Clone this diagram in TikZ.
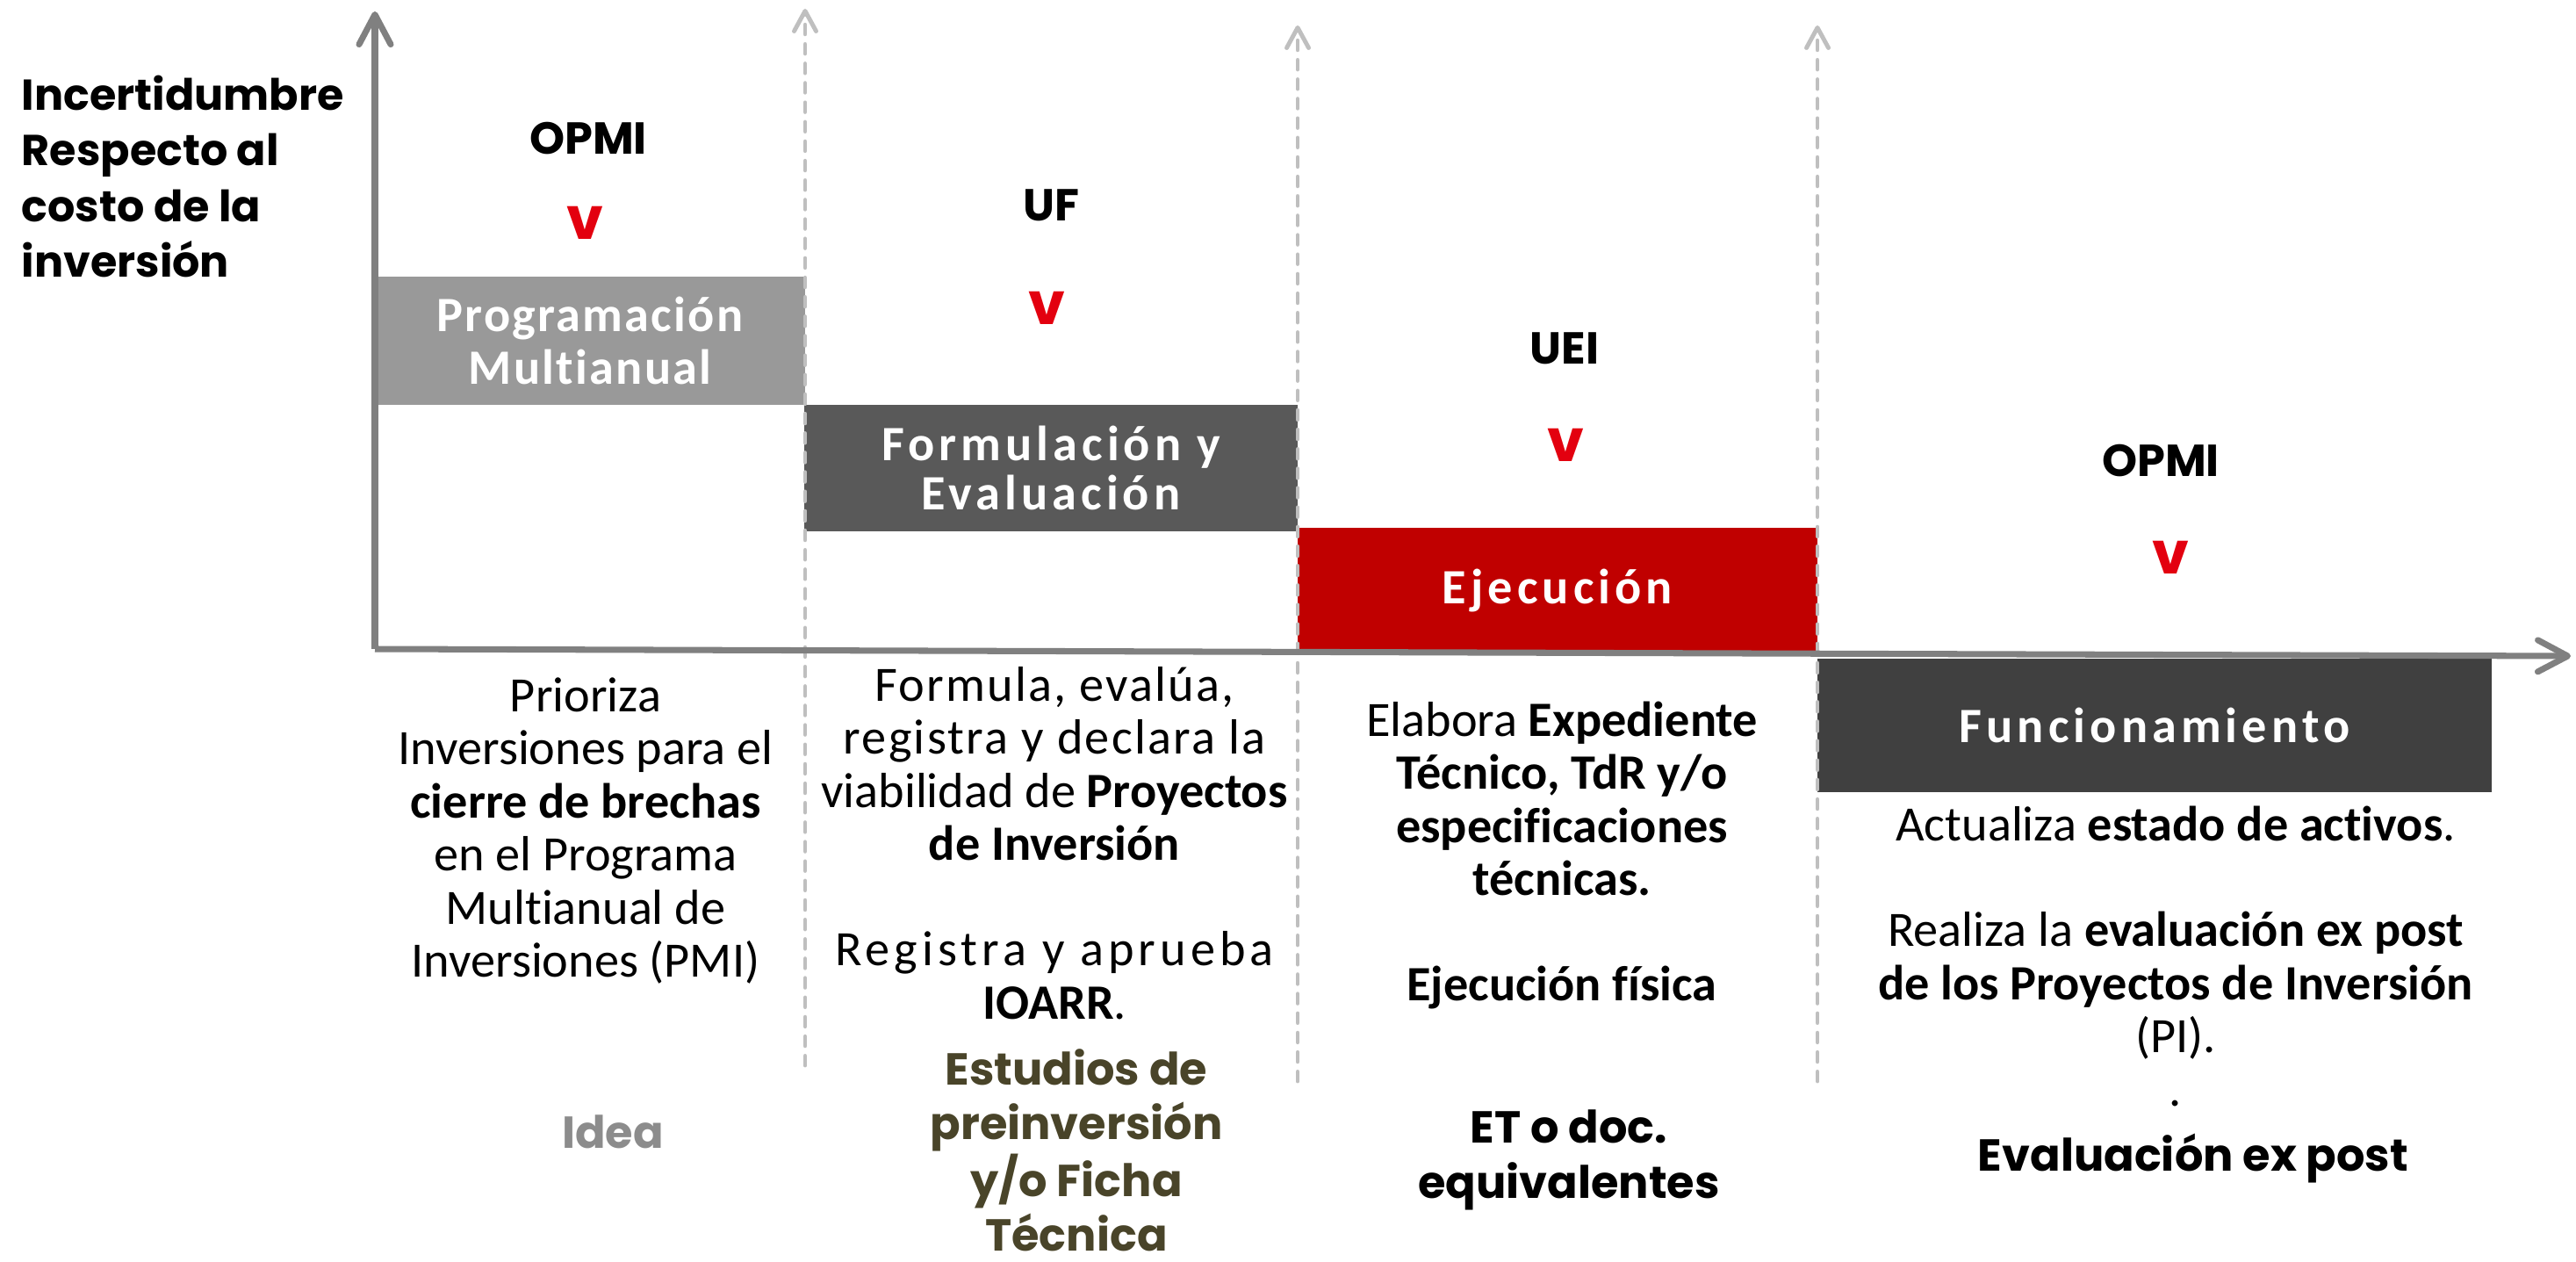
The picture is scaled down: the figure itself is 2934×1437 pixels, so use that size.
\documentclass[tikz,border=0pt]{standalone}
\usepackage{fontspec}
\setmainfont{Carlito}[Ligatures=NoCommon]
\newfontfamily\gothic{Poppins}
\newfontfamily\trackA[LetterSpace=4,Ligatures=NoCommon]{Carlito}
\newfontfamily\trackB[LetterSpace=9,Ligatures=NoCommon]{Carlito}
\usetikzlibrary{arrows.meta}

\definecolor{axisgray}{HTML}{808080}
\definecolor{dashgray}{HTML}{BFBFBF}
\definecolor{progfill}{HTML}{999999}
\definecolor{formfill}{HTML}{595959}
\definecolor{ejecfill}{HTML}{C00000}
\definecolor{funcfill}{HTML}{404040}
\definecolor{markred}{HTML}{E3000F}
\definecolor{ideagray}{HTML}{8C8C8C}
\definecolor{olivedark}{HTML}{494429}

\tikzset{
  eje/.style={draw=axisgray, line width=2pt, -{Straight Barb[length=3.4mm,width=3.6mm,round]}},
  limite/.style={draw=dashgray, line width=1.4pt, line cap=round, dash pattern=on 3pt off 3.3pt,
    -{Straight Barb[length=2.3mm,width=2.5mm,round]}},
  etapa/.style={text=white, inner sep=0pt, align=center, font=\trackB\bfseries\fontsize{16}{16}\selectfont},
  actor/.style={inner sep=0pt, font=\gothic\bfseries\fontsize{14.5}{18}\selectfont},
  marca/.style={inner sep=0pt, text=markred, font=\gothic\bfseries\fontsize{19}{18}\selectfont},
  tarea/.style={inner sep=0pt, align=center, font=\fontsize{16}{17.2}\selectfont},
  producto/.style={inner sep=0pt, align=center, font=\gothic\bfseries\fontsize{14.5}{17.8}\selectfont},
}

\begin{document}
\begin{tikzpicture}[x=0.01cm, y=-0.01cm]
\useasboundingbox (0,0) rectangle (2934,1437);

\coordinate (O) at (427,739);
\coordinate (ytip) at (427,13);
\coordinate (xtip) at (2928,747);
\coordinate (d1b) at (917,1213);
\coordinate (d1t) at (917,10);
\coordinate (d2b) at (1478,1231);
\coordinate (d2t) at (1478,29);
\coordinate (d3b) at (2070,1231);
\coordinate (d3t) at (2070,29);

\node[etapa, fill=progfill, minimum width=4.90cm, minimum height=1.45cm, font=\trackA\bfseries\fontsize{16}{17}\selectfont]
  (prog) at (672,388) {Programación\\Multianual};
\node[etapa, fill=formfill, minimum width=5.61cm, minimum height=1.43cm] (form) at (1197,533) {Formulación y\\Evaluación};
\node[etapa, fill=ejecfill, minimum width=5.92cm, minimum height=1.44cm] (ejec) at (1774,673) {Ejecución};
\node[etapa, fill=funcfill, minimum width=7.68cm, minimum height=1.52cm] (func) at (2454,826) {Funcionamiento};

\draw[limite] (d1b) -- (d1t);
\draw[limite] (d2b) -- (d2t);
\draw[limite] (d3b) -- (d3t);
\draw[eje] (O) -- (ytip);
\draw[eje] (O) -- (xtip);

\node[anchor=west, align=left, inner sep=0pt, font=\gothic\bfseries\fontsize{14}{18}\selectfont]
  (incert) at (24,201) {Incertidumbre\\Respecto al\\costo de la\\inversión};

\node[actor] (opmi1) at (670,158) {OPMI};
\node[marca] (v1) at (666,254) {v};
\node[actor] (uf) at (1197,234) {UF};
\node[marca] (v2) at (1192,351) {v};
\node[actor] (uei) at (1782,397) {UEI};
\node[marca] (v3) at (1783,507) {v};
\node[actor] (opmi2) at (2461,525) {OPMI};
\node[marca] (v4) at (2472,635) {v};

\node[tarea] (t1) at (667,946) {Prioriza\\Inversiones para el\\\textbf{cierre de brechas}\\en el Programa\\Multianual de\\Inversiones (PMI)};
\node[tarea] (t2) at (1201,960) {{\trackA Formula, evalúa,}\\{\trackA registra y declara la}\\viabilidad de \textbf{Proyectos}\\\textbf{de Inversión}\\[17pt]{\trackB Registra y aprueba}\\\textbf{IOARR}.};
\node[tarea] (t3) at (1779,974) {Elabora \textbf{Expediente}\\\textbf{Técnico, TdR y/o}\\\textbf{especificaciones}\\\textbf{técnicas.}\\[17pt]\textbf{Ejecución física}};
\node[tarea] (t4) at (2478,1089) {Actualiza \textbf{estado de activos}.\\[17pt]Realiza la \textbf{evaluación ex post}\\\textbf{de los Proyectos de Inversión}\\(PI).\\.};

\node[producto, text=ideagray] (idea) at (698,1289) {Idea};
\node[producto, text=olivedark, font=\gothic\bfseries\fontsize{14.5}{17.5}\selectfont]
  (estudios) at (1226,1310) {Estudios de\\preinversión\\y/o Ficha\\Técnica};
\node[producto] (et) at (1787,1321) {ET o doc.\\equivalentes};
\node[producto] (expost) at (2498,1319) {Evaluación ex post};
\end{tikzpicture}
\end{document}
